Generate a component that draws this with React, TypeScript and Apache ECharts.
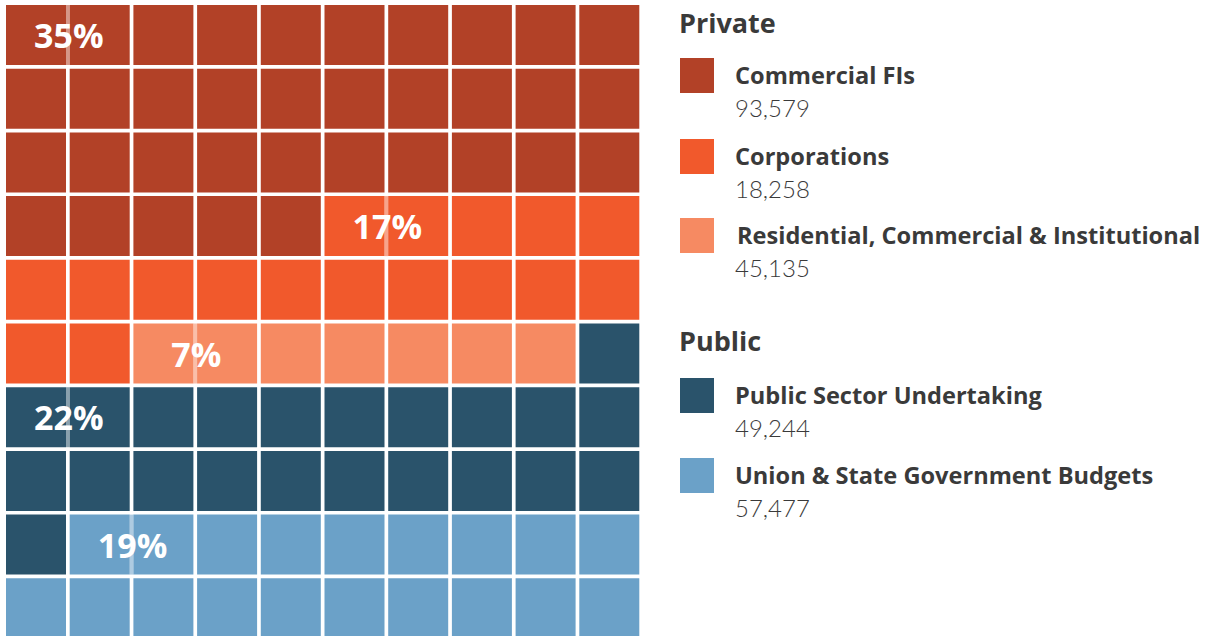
import React, { useEffect, useRef } from "react";
import * as echarts from "echarts";

// Legend data
const legendNames = [
  "Commercial FIs",
  "Corporations",
  "Residential, Commercial & Institutional",
  "Public Sector Undertaking",
  "Union & State Government Budgets",
];
const legendGroups = ["Private", "Private", "Private", "Public", "Public"];
const legendValues = ["93,579", "18,258", "45,135", "49,244", "57,477"];
const legendColors = ["#B24127", "#F1592C", "#F68A62", "#2A536B", "#6BA1C8"];

// Waffle data (as drawn, in fill order)
const waffleCounts = [35, 17, 7, 22, 19];
const waffleLabels = ["35%", "17%", "7%", "22%", "19%"];
const waffleColors = ["#B24127", "#F1592C", "#F68A62", "#2A536B", "#6BA1C8"];
const COLS = 10;
const ROWS = 10;

const BOLD_FONT = "'Open Sans', Lato, sans-serif";
const LIGHT_FONT = "Lato, 'Open Sans', sans-serif";

export default function App() {
  const ref = useRef<HTMLDivElement>(null);

  useEffect(() => {
    document.body.style.margin = "0";
    if (!ref.current) return;
    const chart = echarts.init(ref.current, undefined, { renderer: "svg" });

    const cells: number[][] = [];
    const labels: number[][] = [];
    let n = 0;
    waffleCounts.forEach((cnt, ci) => {
      let labeled = false;
      for (let k = 0; k < cnt; k++) {
        const col = n % COLS;
        const row = Math.floor(n / COLS);
        cells.push([col, row, ci]);
        // label sits on the first cell that has a neighbour of the same group to its right
        if (!labeled && col < COLS - 1 && k < cnt - 1) {
          labels.push([col, row, ci]);
          labeled = true;
        }
        n++;
      }
    });

    const GAP = 3.7;

    const graphics: any[] = [];
    const headerY: Record<string, number> = { Private: 22, Public: 340 };
    const itemTops = [58, 139, 218, 378, 458];
    const seen: Record<string, boolean> = {};
    legendNames.forEach((name, i) => {
      const g = legendGroups[i];
      if (!seen[g]) {
        seen[g] = true;
        graphics.push({
          type: "text",
          x: 679,
          y: headerY[g],
          style: {
            text: g,
            fontFamily: BOLD_FONT,
            fontWeight: "bold",
            fontSize: 27,
            fill: "#3a3a3a",
            verticalAlign: "middle",
          },
        });
      }
      const t = itemTops[i];
      graphics.push({
        type: "rect",
        shape: { x: 680, y: t, width: 34, height: 35 },
        style: { fill: legendColors[i] },
      });
      graphics.push({
        type: "text",
        x: i === 2 ? 737 : 735,
        y: t + 17,
        style: {
          text: name,
          fontFamily: BOLD_FONT,
          fontWeight: "bold",
          fontSize: 23.6,
          fill: "#3a3a3a",
          verticalAlign: "middle",
        },
      });
      graphics.push({
        type: "text",
        x: 735,
        y: t + 49,
        style: {
          text: legendValues[i],
          fontFamily: LIGHT_FONT,
          fontWeight: 300,
          fontSize: 24,
          fill: "#3a3a3a",
          verticalAlign: "middle",
        },
      });
    });

    chart.setOption({
      animation: false,
      grid: { left: 6, top: 5, width: 637, height: 637 },
      xAxis: { type: "value", min: 0, max: COLS, show: false },
      yAxis: { type: "value", min: 0, max: ROWS, inverse: true, show: false },
      graphic: graphics,
      series: [
        {
          type: "custom",
          data: cells,
          z: 2,
          clip: false,
          renderItem: (params: any, api: any) => {
            const p = api.coord([api.value(0), api.value(1)]);
            const s = api.size([1, 1]);
            const w = Math.abs(s[0]);
            const h = Math.abs(s[1]);
            return {
              type: "rect",
              shape: { x: p[0], y: p[1], width: w - GAP, height: h - GAP },
              style: { fill: waffleColors[api.value(2)] },
            };
          },
        },
        {
          type: "custom",
          data: labels,
          z: 5,
          clip: false,
          renderItem: (params: any, api: any) => {
            const p = api.coord([api.value(0), api.value(1)]);
            const s = api.size([1, 1]);
            const w = Math.abs(s[0]);
            const h = Math.abs(s[1]);
            const ci = api.value(2);
            const cx = p[0] + w - GAP / 2 + 1;
            return {
              type: "group",
              children: [
                {
                  type: "rect",
                  shape: { x: p[0] + w - GAP, y: p[1], width: GAP, height: h - GAP },
                  style: { fill: waffleColors[ci], opacity: 0.55 },
                },
                {
                  type: "text",
                  x: cx,
                  y: p[1] + (h - GAP) / 2,
                  style: {
                    text: waffleLabels[ci],
                    fontFamily: BOLD_FONT,
                    fontWeight: "bold",
                    fontSize: 34,
                    fill: "#ffffff",
                    align: "center",
                    verticalAlign: "middle",
                  },
                },
              ],
            };
          },
        },
      ],
    });

    return () => chart.dispose();
  }, []);

  return (
    <div style={{ width: 1208, height: 636, overflow: "hidden", position: "relative" }}>
      <div ref={ref} style={{ width: 1208, height: 660 }} />
    </div>
  );
}
